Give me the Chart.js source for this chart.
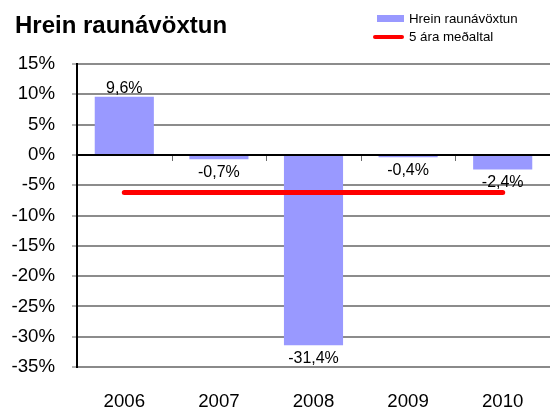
<!DOCTYPE html>
<html>
<head>
<meta charset="utf-8">
<script src="https://cdn.jsdelivr.net/npm/chart.js@4.4.1/dist/chart.umd.min.js"></script>
<style>
  html, body { margin: 0; padding: 0; background: #fff; }
  #wrap { position: relative; width: 550px; height: 409px; font-family: "Liberation Sans", Arial, sans-serif; }
  #c { position: absolute; left: 0; top: 0; }
  #title { position: absolute; left: 15px; top: 10px; font-size: 24px; font-weight: bold; color: #000; line-height: 30px; white-space: nowrap; }
  .leg { position: absolute; font-size: 13.3px; color: #000; line-height: 16px; white-space: nowrap; }
  .sw { position: absolute; }
</style>
</head>
<body>
<div id="wrap">
  <canvas id="c" width="550" height="409"></canvas>
  <div id="title">Hrein raunávöxtun</div>
  <div class="sw" style="left:377px; top:15px; width:27px; height:7px; background:#9999ff;"></div>
  <div class="leg" style="left:409px; top:11px;">Hrein raunávöxtun</div>
  <div class="sw" style="left:373px; top:35px; width:31px; height:4px; background:#ff0000; border-radius:2px;"></div>
  <div class="leg" style="left:409px; top:29px;">5 ára meðaltal</div>
</div>
<script>
const categories = ['2006', '2007', '2008', '2009', '2010'];
const returnValues = [9.6, -0.7, -31.4, -0.4, -2.4];
const averageValues = [-6.2, -6.2, -6.2, -6.2, -6.2];
const seriesNames = ['Hrein raunávöxtun', '5 ára meðaltal'];
const yTickMin = -35, yTickMax = 15, yTickStep = 5;

const FONT = '"Liberation Sans", Arial, sans-serif';

const labelPlugin = {
  id: 'barLabels',
  afterDatasetsDraw(chart) {
    const ctx = chart.ctx;
    const meta = chart.getDatasetMeta(1);
    ctx.save();
    ctx.font = '16px ' + FONT;
    ctx.fillStyle = '#000';
    ctx.textAlign = 'center';
    meta.data.forEach((el, i) => {
      const v = returnValues[i];
      const txt = v.toFixed(1).replace('.', ',') + '%';
      if (v >= 0) {
        ctx.textBaseline = 'alphabetic';
        ctx.fillText(txt, el.x, el.y - 4);
      } else {
        ctx.textBaseline = 'middle';
        ctx.fillText(txt, el.x, el.y + 13);
      }
    });
    ctx.restore();
  }
};

const zeroTicksPlugin = {
  id: 'zeroTicks',
  beforeDatasetsDraw(chart) {
    const ctx = chart.ctx;
    const y = chart.scales.y;
    const a = chart.chartArea;
    const y0 = Math.round(y.getPixelForValue(0));
    const n = categories.length;
    const w = (a.right - a.left) / n;
    ctx.save();
    ctx.fillStyle = '#6a6a6a';
    for (let i = 1; i < n; i++) {
      const px = Math.round(a.left + i * w);
      ctx.fillRect(px, y0 + 1, 1, 5);
    }
    ctx.restore();
  }
};

new Chart(document.getElementById('c'), {
  data: {
    labels: categories,
    datasets: [
      {
        type: 'line',
        label: seriesNames[1],
        data: averageValues,
        borderColor: '#ff0000',
        backgroundColor: '#ff0000',
        borderWidth: 5,
        borderCapStyle: 'round',
        pointRadius: 0,
        fill: false,
        order: 0
      },
      {
        type: 'bar',
        label: seriesNames[0],
        data: returnValues,
        backgroundColor: '#9999ff',
        borderWidth: 0,
        categoryPercentage: 1,
        barPercentage: 0.625,
        order: 1
      }
    ]
  },
  options: {
    responsive: false,
    animation: false,
    devicePixelRatio: 1,
    layout: { padding: { top: 64, left: 0, right: 0, bottom: 0 } },
    plugins: {
      legend: { display: false },
      title: { display: false },
      tooltip: { enabled: false }
    },
    scales: {
      x: {
        grid: { display: false, drawTicks: false },
        border: { display: false },
        ticks: { font: { family: FONT, size: 18.67 }, color: '#000', padding: 24, maxRotation: 0 },
        afterFit(s) { s.height = 42; }
      },
      y: {
        min: yTickMin,
        max: yTickMax,
        ticks: {
          stepSize: yTickStep,
          font: { family: FONT, size: 18.67 },
          color: '#000',
          padding: 17,
          callback: v => v + '%'
        },
        grid: {
          display: true,
          drawOnChartArea: true,
          drawTicks: true,
          tickLength: 5,
          tickWidth: 1,
          tickColor: '#6a6a6a',
          color: c => {
            const v = c.tick ? c.tick.value : null;
            if (v === 0) return '#000000';
            if (v === yTickMin) return '#8a8a8a';
            return '#8c8c8c';
          },
          lineWidth: 2
        },
        border: { display: true, color: '#000', width: 2 },
        afterFit(s) { s.width = 77; }
      }
    }
  },
  plugins: [labelPlugin, zeroTicksPlugin]
});
</script>
</body>
</html>
